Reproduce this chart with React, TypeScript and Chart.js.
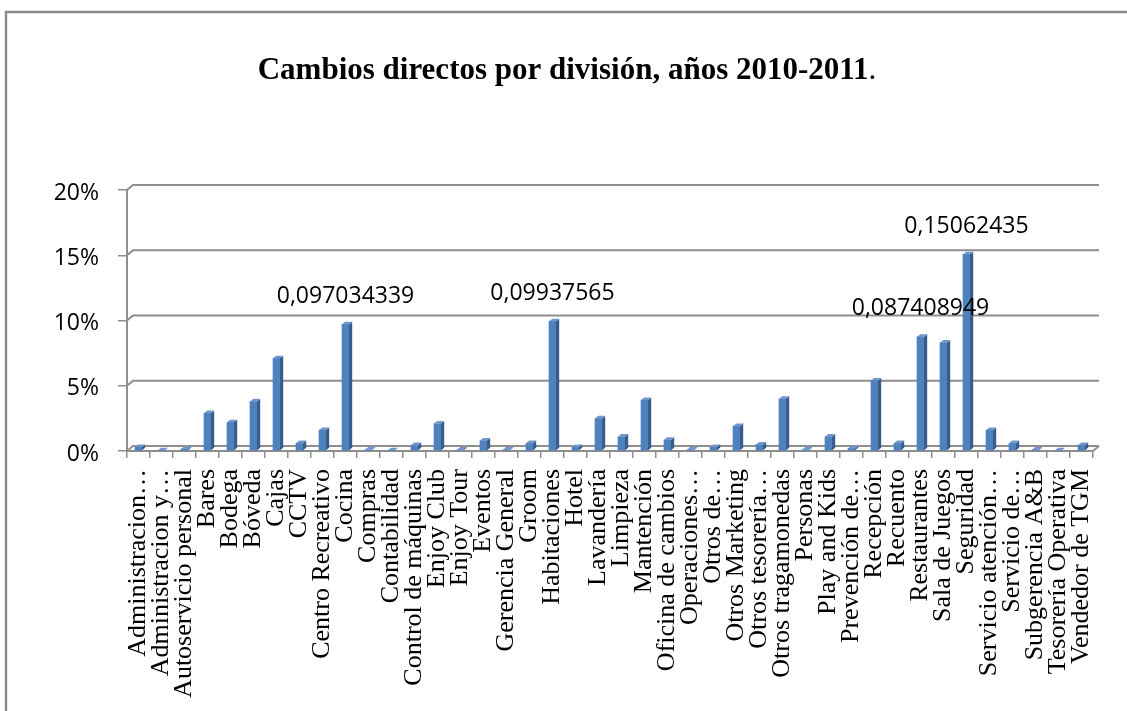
import { useEffect, useRef } from "react";
import { Chart, registerables } from "chart.js";

Chart.register(...registerables);

// Divisions along the horizontal axis
const categories = [
  "Administracion…",
  "Administracion y…",
  "Autoservicio personal",
  "Bares",
  "Bodega",
  "Bóveda",
  "Cajas",
  "CCTV",
  "Centro Recreativo",
  "Cocina",
  "Compras",
  "Contabilidad",
  "Control de máquinas",
  "Enjoy Club",
  "Enjoy Tour",
  "Eventos",
  "Gerencia General",
  "Groom",
  "Habitaciones",
  "Hotel",
  "Lavandería",
  "Limpieza",
  "Mantención",
  "Oficina de cambios",
  "Operaciones…",
  "Otros de…",
  "Otros Marketing",
  "Otros tesorería…",
  "Otros tragamonedas",
  "Personas",
  "Play and Kids",
  "Prevención de…",
  "Recepción",
  "Recuento",
  "Restaurantes",
  "Sala de Juegos",
  "Seguridad",
  "Servicio atención…",
  "Servicio de…",
  "Subgerencia A&B",
  "Tesorería Operativa",
  "Vendedor de TGM",
];

// Share of direct changes per division (fraction of total)
const shares = [
  0.003, 0.0005, 0.0015, 0.029, 0.022, 0.038, 0.071, 0.006, 0.016, 0.097034339,
  0.001, 0.0005, 0.0045, 0.021, 0.001, 0.008, 0.001, 0.006, 0.09937565, 0.003,
  0.025, 0.011, 0.039, 0.0085, 0.001, 0.003, 0.019, 0.005, 0.04, 0.001,
  0.011, 0.002, 0.054, 0.006, 0.087408949, 0.083, 0.15062435, 0.016, 0.006, 0.001,
  0.0005, 0.0045,
];

// Divisions whose value is printed above the column
const labelledCategories = ["Cocina", "Habitaciones", "Restaurantes", "Seguridad"];

// Vertical axis ticks
const yTicks = [0, 0.05, 0.1, 0.15, 0.2];

const titleMain = "Cambios directos por división, años 2010-2011";
const titleTail = ".";

// 3D look: wall depth and column depth offsets
const WALL_DX = 6;
const WALL_DY = 5;
const BAR_DX = 3.2;
const BAR_DY = 2.6;

const GRID_COLOR = "#8e8e8e";
const BAR_FRONT = "#4f81bd";
const BAR_SIDE = "#385d8a";
const BAR_TOP = "#6f97cb";

const formatValue = (v: number) => String(v).replace(".", ",");

const framePlugin = {
  id: "frame",
  beforeDraw(chart: any) {
    const { ctx, width, height } = chart;
    ctx.save();
    ctx.fillStyle = "#ffffff";
    ctx.fillRect(0, 0, width, height);
    ctx.strokeStyle = "#8a8a8a";
    ctx.lineWidth = 2.4;
    ctx.beginPath();
    ctx.moveTo(6, height + 2);
    ctx.lineTo(6, 12);
    ctx.lineTo(width + 2, 12);
    ctx.stroke();
    ctx.restore();
  },
};

const wallsPlugin = {
  id: "walls",
  beforeDatasetsDraw(chart: any) {
    const { ctx, chartArea, scales } = chart;
    const { left, right, bottom } = chartArea;
    ctx.save();
    ctx.strokeStyle = GRID_COLOR;
    ctx.lineWidth = 2;
    yTicks.forEach((t) => {
      const y = scales.y.getPixelForValue(t);
      ctx.beginPath();
      ctx.moveTo(left, y);
      ctx.lineTo(left + WALL_DX, y - WALL_DY);
      ctx.lineTo(right + WALL_DX, y - WALL_DY);
      ctx.stroke();
    });
    // right edge of the floor
    ctx.beginPath();
    ctx.moveTo(right, bottom);
    ctx.lineTo(right + WALL_DX, bottom - WALL_DY);
    ctx.stroke();
    ctx.restore();
  },
};

const columns3dPlugin = {
  id: "columns3d",
  afterDatasetsDraw(chart: any) {
    const { ctx } = chart;
    const meta = chart.getDatasetMeta(0);
    ctx.save();
    meta.data.forEach((bar: any) => {
      const { x, y, base, width } = bar.getProps(["x", "y", "base", "width"], true);
      const l = x - width / 2;
      const r = x + width / 2;
      ctx.fillStyle = BAR_SIDE;
      ctx.beginPath();
      ctx.moveTo(r, y);
      ctx.lineTo(r + BAR_DX, y - BAR_DY);
      ctx.lineTo(r + BAR_DX, base - BAR_DY);
      ctx.lineTo(r, base);
      ctx.closePath();
      ctx.fill();
      ctx.fillStyle = BAR_TOP;
      ctx.beginPath();
      ctx.moveTo(l, y);
      ctx.lineTo(l + BAR_DX, y - BAR_DY);
      ctx.lineTo(r + BAR_DX, y - BAR_DY);
      ctx.lineTo(r, y);
      ctx.closePath();
      ctx.fill();
    });
    ctx.restore();
  },
};

const valueLabelsPlugin = {
  id: "valueLabels",
  afterDatasetsDraw(chart: any) {
    const { ctx } = chart;
    const meta = chart.getDatasetMeta(0);
    ctx.save();
    ctx.font = '23px "Open Sans"';
    ctx.fillStyle = "#000000";
    ctx.textAlign = "center";
    ctx.textBaseline = "middle";
    labelledCategories.forEach((name) => {
      const i = categories.indexOf(name);
      const bar = meta.data[i];
      ctx.fillText(formatValue(shares[i]), bar.x, bar.y - 28);
    });
    ctx.restore();
  },
};

const titlePlugin = {
  id: "chartTitle",
  afterDraw(chart: any) {
    const { ctx } = chart;
    ctx.save();
    ctx.fillStyle = "#000000";
    ctx.textBaseline = "alphabetic";
    ctx.textAlign = "left";
    const boldFont = 'bold 31px "Liberation Serif"';
    const plainFont = '31px "Liberation Serif"';
    ctx.font = boldFont;
    const wMain = ctx.measureText(titleMain).width;
    ctx.font = plainFont;
    const wTail = ctx.measureText(titleTail).width;
    const x0 = 567 - (wMain + wTail) / 2;
    const y = 79;
    ctx.font = boldFont;
    ctx.fillText(titleMain, x0, y);
    ctx.font = plainFont;
    ctx.fillText(titleTail, x0 + wMain, y);
    ctx.restore();
  },
};

export default function App() {
  const canvasRef = useRef<HTMLCanvasElement | null>(null);

  useEffect(() => {
    const canvas = canvasRef.current;
    if (!canvas) return;
    const chart = new Chart(canvas, {
      type: "bar",
      data: {
        labels: categories,
        datasets: [
          {
            data: shares,
            backgroundColor: BAR_FRONT,
            borderWidth: 0,
            barThickness: 7,
          },
        ],
      },
      options: {
        responsive: false,
        animation: false,
        devicePixelRatio: 1,
        layout: { padding: { left: 0, top: 190, right: 34, bottom: 0 } },
        plugins: {
          legend: { display: false },
          title: { display: false },
          tooltip: { enabled: false },
        },
        scales: {
          x: {
            offset: true,
            grid: {
              offset: true,
              drawOnChartArea: false,
              drawTicks: true,
              tickLength: 7,
              color: GRID_COLOR,
              lineWidth: 1.5,
            },
            border: { display: true, color: GRID_COLOR, width: 2 },
            ticks: {
              autoSkip: false,
              minRotation: 90,
              maxRotation: 90,
              padding: 11,
              color: "#000000",
              font: { family: '"Liberation Serif"', size: 26 },
            },
            afterFit(scale: any) {
              scale.height = 260;
              scale.paddingLeft = 0;
              scale.paddingRight = 0;
            },
          },
          y: {
            min: 0,
            max: 0.2,
            afterBuildTicks(scale: any) {
              scale.ticks = yTicks.map((v) => ({ value: v }));
            },
            grid: {
              drawOnChartArea: false,
              drawTicks: true,
              tickLength: 9,
              color: GRID_COLOR,
              lineWidth: 1.5,
            },
            border: { display: true, color: GRID_COLOR, width: 2 },
            ticks: {
              padding: 19,
              labelOffset: 3,
              color: "#000000",
              font: { family: '"Open Sans"', size: 23 },
              callback: (v: any) => `${Math.round(Number(v) * 100)}%`,
            },
            afterFit(scale: any) {
              scale.width = 127;
              scale.paddingTop = 0;
              scale.paddingBottom = 0;
            },
          },
        },
      },
      plugins: [framePlugin, wallsPlugin, columns3dPlugin, valueLabelsPlugin, titlePlugin],
    });
    return () => chart.destroy();
  }, []);

  return (
    <div style={{ position: "fixed", left: 0, top: 0, width: 1127, height: 711, background: "#fff" }}>
      <canvas ref={canvasRef} width={1127} height={711} style={{ display: "block" }} />
    </div>
  );
}
